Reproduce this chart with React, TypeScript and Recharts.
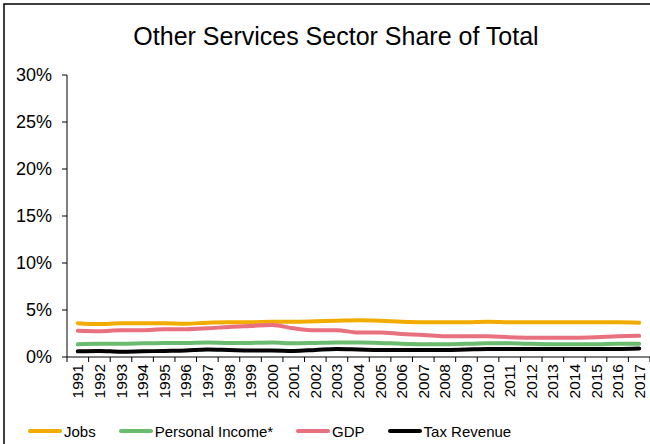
import { LineChart, Line, XAxis, YAxis, Legend } from 'recharts';

const years = [
  '1991', '1992', '1993', '1994', '1995', '1996', '1997', '1998', '1999', '2000',
  '2001', '2002', '2003', '2004', '2005', '2006', '2007', '2008', '2009', '2010',
  '2011', '2012', '2013', '2014', '2015', '2016', '2017',
];

const jobs = [
  3.6, 3.5, 3.6, 3.6, 3.6, 3.55, 3.65, 3.7, 3.7, 3.75,
  3.75, 3.8, 3.85, 3.9, 3.85, 3.75, 3.7, 3.7, 3.7, 3.75,
  3.7, 3.7, 3.7, 3.7, 3.7, 3.7, 3.65,
];

const personalIncome = [
  1.35, 1.4, 1.4, 1.45, 1.5, 1.5, 1.55, 1.5, 1.5, 1.55,
  1.45, 1.5, 1.55, 1.55, 1.5, 1.4, 1.35, 1.35, 1.4, 1.45,
  1.45, 1.4, 1.35, 1.35, 1.35, 1.4, 1.4,
];

const gdp = [
  2.8, 2.75, 2.85, 2.85, 2.95, 2.95, 3.05, 3.2, 3.3, 3.4,
  3.05, 2.85, 2.85, 2.6, 2.6, 2.45, 2.35, 2.2, 2.2, 2.2,
  2.1, 2.05, 2.05, 2.05, 2.1, 2.2, 2.25,
];

const taxRevenue = [
  0.6, 0.65, 0.55, 0.6, 0.65, 0.7, 0.8, 0.75, 0.7, 0.7,
  0.65, 0.75, 0.85, 0.8, 0.75, 0.75, 0.75, 0.75, 0.8, 0.85,
  0.85, 0.85, 0.85, 0.85, 0.85, 0.85, 0.9,
];

const yTicks = [0, 5, 10, 15, 20, 25, 30];

const series = [
  { key: 'jobs', name: 'Jobs', color: '#F2AC00' },
  { key: 'income', name: 'Personal Income*', color: '#6BBB6E' },
  { key: 'gdp', name: 'GDP', color: '#E8707F' },
  { key: 'tax', name: 'Tax Revenue', color: '#000000' },
];

const data = years.map((year, i) => ({
  year,
  jobs: jobs[i],
  income: personalIncome[i],
  gdp: gdp[i],
  tax: taxRevenue[i],
}));

const FONT = '"Liberation Sans", Arial, sans-serif';

// Excel-style ticks: marks sit between categories, labels are rotated upward
function YearTick(props: any) {
  const { x, y, payload, index, width, visibleTicksCount } = props;
  const half = width && visibleTicksCount ? width / visibleTicksCount / 2 : 10.8;
  const top = y - 8;
  return (
    <g>
      <line x1={x - half} y1={top} x2={x - half} y2={top + 5} stroke="#000" />
      {index === visibleTicksCount - 1 && (
        <line x1={x + half} y1={top} x2={x + half} y2={top + 5} stroke="#000" />
      )}
      <text
        x={x}
        y={top + 7}
        transform={`rotate(-90, ${x}, ${top + 7})`}
        textAnchor="end"
        dy="0.36em"
        fontSize={15.5}
        fontFamily={FONT}
        fill="#000"
      >
        {payload.value}
      </text>
    </g>
  );
}

function ChartLegend() {
  return (
    <div style={{ display: 'flex', alignItems: 'center', fontFamily: FONT, fontSize: 15, color: '#000', height: 26 }}>
      {series.map((s) => (
        <div key={s.key} style={{ display: 'flex', alignItems: 'center', marginRight: 23 }}>
          <span style={{ display: 'inline-block', width: 34, height: 4, borderRadius: 2, background: s.color, marginRight: 2 }} />
          <span>{s.name}</span>
        </div>
      ))}
    </div>
  );
}

export default function App() {
  return (
    <div style={{ position: 'absolute', left: 0, top: 0, width: 650, height: 444, background: '#fff', overflow: 'hidden' }}>
      <LineChart width={650} height={444} data={data} margin={{ top: 75, right: 0, left: 0, bottom: 0 }}>
        <rect x={4} y={4} width={700} height={500} fill="none" stroke="#000" strokeWidth={1.5} />
        <text x={336} y={45} textAnchor="middle" fontSize={25} fontFamily={FONT} fill="#000">
          Other Services Sector Share of Total
        </text>
        <XAxis
          dataKey="year"
          interval={0}
          height={61}
          padding={{ left: 10.8, right: 10.8 }}
          tickLine={false}
          axisLine={{ stroke: '#000' }}
          tick={<YearTick />}
        />
        <YAxis
          domain={[0, 30]}
          ticks={yTicks}
          width={67}
          tickSize={5}
          tickMargin={10}
          tickFormatter={(v: number) => `${v}%`}
          axisLine={{ stroke: '#000' }}
          tickLine={{ stroke: '#000' }}
          tick={{ fontSize: 18, fontFamily: FONT, fill: '#000' }}
        />
        <Legend
          verticalAlign="bottom"
          content={<ChartLegend />}
          wrapperStyle={{ left: 28, bottom: 0, width: 'auto' }}
        />
        {series.map((s) => (
          <Line
            key={s.key}
            type="monotone"
            dataKey={s.key}
            name={s.name}
            stroke={s.color}
            strokeWidth={4}
            strokeLinecap="round"
            dot={false}
            activeDot={false}
            isAnimationActive={false}
          />
        ))}
      </LineChart>
    </div>
  );
}
